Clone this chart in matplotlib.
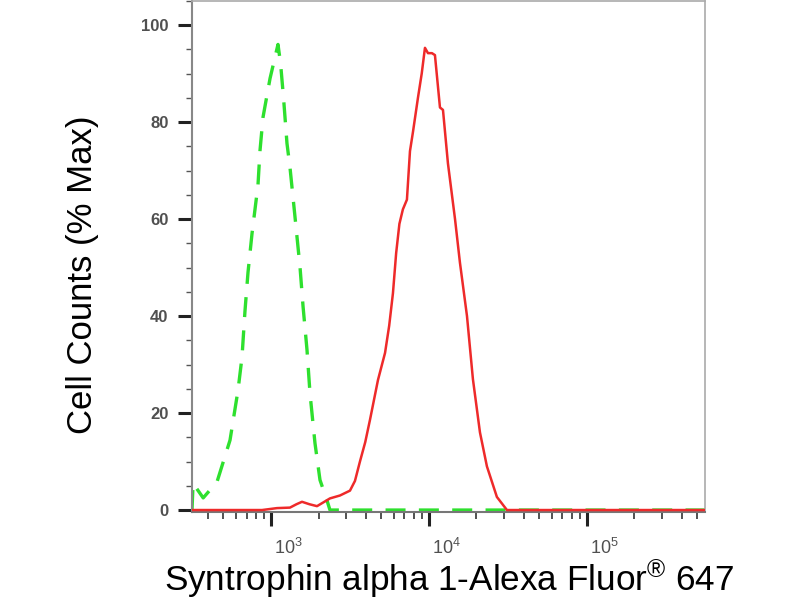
import matplotlib
matplotlib.use("Agg")
import matplotlib.pyplot as plt
import matplotlib.transforms as mtrans
from matplotlib.ticker import LogLocator, FixedLocator, MultipleLocator, LogFormatterSciNotation

plt.rcParams['font.family'] = ['Liberation Sans', 'DejaVu Sans']
plt.rcParams['mathtext.fontset'] = 'custom'
plt.rcParams['mathtext.rm'] = 'Liberation Sans'
plt.rcParams['mathtext.it'] = 'Liberation Sans'
plt.rcParams['mathtext.bf'] = 'Liberation Sans:bold'

# Isotype control (green dashed)
ctrl_x = [316, 321, 372, 455, 550, 618, 655, 684, 715, 758, 827, 851, 890, 986, 1107,
          1150, 1200, 1262, 1318, 1419, 1527, 1595, 1690, 1766, 1898, 2042, 2261, 2362, 558000]
ctrl_y = [0, 5.5, 2.5, 5.8, 14.4, 24.7, 31.5, 41, 49, 57, 67, 74, 81, 89, 96,
          92, 85, 75.6, 70.7, 60.4, 50, 42, 33, 24, 13.8, 6.2, 2, 0, 0]

# Syntrophin alpha 1 stained (red solid)
samp_x = [316, 877, 1092, 1318, 1450, 1571, 1750, 1955, 2150, 2362, 2733, 3162, 3400,
          3657, 3950, 4233, 4755, 5272, 5600, 5916, 6200, 6500, 6839, 7254, 7583, 7925,
          8519, 9000, 9435, 9858, 10446, 10913, 11742, 12270, 13187, 14622, 15713, 17411,
          18983, 21039, 23285, 26925, 31180, 558000]
samp_y = [0, 0, 0.4, 0.5, 1.2, 1.7, 1.2, 0.8, 1.6, 2.4, 3, 4, 6,
          10, 14, 18.6, 26.8, 32.4, 38, 44.7, 53, 59, 62, 64, 74, 78,
          85, 90, 95.3, 94.2, 94.2, 93.8, 83, 82.5, 71.5, 60, 51, 40,
          27, 16, 9, 2.7, 0, 0]

y_major = [0, 20, 40, 60, 80, 100]
x_major = [1e3, 1e4, 1e5]

fig = plt.figure(figsize=(8, 6), dpi=100)
ax = fig.add_axes([0.24, 0.1467, 0.641, 0.852])

ax.plot(samp_x, samp_y, color='#ee2a2a', lw=1.8, zorder=3)
ax.plot(ctrl_x, ctrl_y, color='#2ee02e', lw=2.4, linestyle=(0, (6, 4)), zorder=2)

ax.set_xscale('log')
ax.set_xlim(316, 558000)
ax.set_ylim(-0.4, 105)

ax.xaxis.set_major_locator(FixedLocator(x_major))
ax.xaxis.set_major_formatter(LogFormatterSciNotation())
ax.xaxis.set_minor_locator(LogLocator(base=10, subs=range(2, 10)))
ax.xaxis.set_minor_formatter(plt.NullFormatter())
ax.yaxis.set_major_locator(FixedLocator(y_major))
ax.yaxis.set_minor_locator(MultipleLocator(5))

ax.tick_params(axis='both', which='major', length=10, width=2.2, color='#222222',
               labelcolor='#505050')
ax.tick_params(axis='y', which='major', pad=7, labelsize=12)
ax.tick_params(axis='x', which='major', pad=9, labelsize=13)
ax.tick_params(axis='y', which='minor', length=4, width=1.0, color='#555555')
ax.tick_params(axis='x', which='minor', length=5, width=1.2, color='#333333')

for lbl in ax.get_yticklabels():
    lbl.set_fontweight('bold')

offset = mtrans.ScaledTranslation(3 / 100, 0, fig.dpi_scale_trans)
for lbl in ax.xaxis.get_majorticklabels():
    lbl.set_transform(lbl.get_transform() + offset)
    lbl.set_ha('left')

for s in ['top', 'right']:
    ax.spines[s].set_color('#aaaaaa')
    ax.spines[s].set_linewidth(1.2)
ax.spines['left'].set_color('#888888')
ax.spines['left'].set_linewidth(1.5)
ax.spines['bottom'].set_color('#777777')
ax.spines['bottom'].set_linewidth(1.5)

fig.text(83 / 800, 1 - 275 / 600, 'Cell Counts (% Max)', rotation=90,
         ha='center', va='center', fontsize=25, color='black')
fig.text(449 / 800, 1 - 590 / 600, 'Syntrophin alpha 1-Alexa Fluor$^{\u00ae}$ 647',
         ha='center', va='baseline', fontsize=25.3, color='black')

fig.savefig('out.png', dpi=100)
